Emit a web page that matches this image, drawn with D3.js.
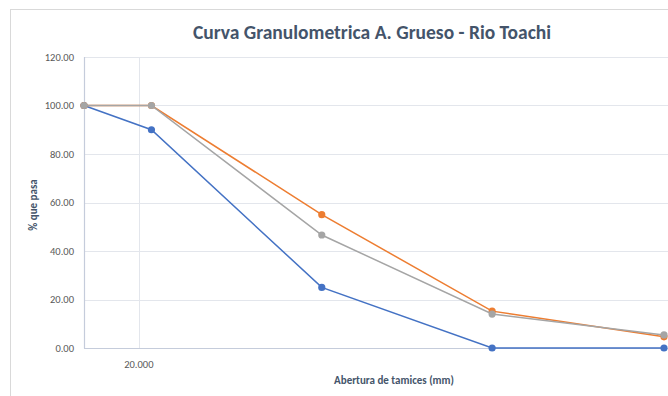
<!DOCTYPE html>
<html><head><meta charset="utf-8">
<script src="https://cdn.jsdelivr.net/npm/d3@7"></script>
<style>body{margin:0;background:#fff}svg{display:block}</style>
</head><body>
<svg id="c" width="668" height="396"></svg>
<script>
const sieves = [25, 19, 9.5, 4.75, 2.36];
const blueVals = [100, 90, 25, 0, 0];
const orangeVals = [100, 100, 55, 15.2, 4.6];
const grayVals = [100, 100, 46.6, 14, 5.4];
const yTicks = [0, 20, 40, 60, 80, 100, 120];
const xTicks = [20];
const seriesColors = ["#4472C4", "#ED7D31", "#A5A5A5"];

const svg = d3.select("#c");
const font = "Carlito, 'Open Sans', 'Noto Sans', sans-serif";
svg.append("rect").attr("x", 10.5).attr("y", 9.5).attr("width", 700).attr("height", 400)
  .attr("fill", "#fff").attr("stroke", "#D9D9D9");

const x = d3.scaleLog().domain([25, 2.36]).range([84, 664]);
const y = d3.scaleLinear().domain([0, 120]).range([348, 57]);

// gridlines
svg.append("g").selectAll("line").data(yTicks.filter(d => d > 0)).join("line")
  .attr("x1", 84).attr("x2", 668).attr("y1", d => Math.round(y(d)) + 0.5).attr("y2", d => Math.round(y(d)) + 0.5)
  .attr("stroke", "#E3E6EC").attr("stroke-width", 1);
svg.append("g").selectAll("line").data(xTicks).join("line")
  .attr("x1", d => Math.round(x(d)) + 0.5).attr("x2", d => Math.round(x(d)) + 0.5).attr("y1", 57).attr("y2", 348)
  .attr("stroke", "#E3E6EC").attr("stroke-width", 1);

// axes lines
svg.append("line").attr("x1", 84.5).attr("x2", 84.5).attr("y1", 57).attr("y2", 348.5).attr("stroke", "#C5CCDB").attr("stroke-width", 1.2);
svg.append("line").attr("x1", 84).attr("x2", 668).attr("y1", 348.5).attr("y2", 348.5).attr("stroke", "#C5CCDB").attr("stroke-width", 1.2);

// y tick labels
svg.append("g").selectAll("text").data(yTicks).join("text")
  .attr("x", 74).attr("y", d => y(d)).attr("dy", "0.35em").attr("text-anchor", "end")
  .attr("font-family", font).attr("font-size", 10.5).attr("fill", "#595959")
  .text(d => d3.format(".2f")(d));
// x tick labels
svg.append("g").selectAll("text").data(xTicks).join("text")
  .attr("x", d => x(d)).attr("y", 364).attr("dy", "0.35em").attr("text-anchor", "middle")
  .attr("font-family", font).attr("font-size", 10.5).attr("fill", "#595959")
  .text(d => d3.format(".3f")(d));

// titles
svg.append("text").attr("x", 372).attr("y", 39).attr("text-anchor", "middle")
  .attr("font-family", font).attr("font-size", 19.5).attr("font-weight", "bold").attr("fill", "#44546A")
  .text("Curva Granulometrica A. Grueso - Rio Toachi");
svg.append("text").attr("transform", "translate(37,205) rotate(-90)").attr("text-anchor", "middle")
  .attr("font-family", font).attr("font-size", 11).attr("font-weight", "bold").attr("fill", "#44546A")
  .text("% que pasa");
svg.append("text").attr("x", 394).attr("y", 384).attr("text-anchor", "middle")
  .attr("font-family", font).attr("font-size", 11).attr("font-weight", "bold").attr("fill", "#44546A")
  .text("Abertura de tamices (mm)");

const series = [blueVals, orangeVals, grayVals];
const line = d3.line().x(d => x(d[0])).y(d => y(d[1]));
series.forEach((vals, i) => {
  const pts = sieves.map((s, j) => [s, vals[j]]);
  svg.append("path").datum(pts).attr("d", line).attr("fill", "none")
    .attr("stroke", seriesColors[i]).attr("stroke-width", 1.5);
  svg.append("g").selectAll("circle").data(pts).join("circle")
    .attr("cx", d => x(d[0])).attr("cy", d => y(d[1])).attr("r", 3.6)
    .attr("fill", seriesColors[i]);
});
</script>
</body></html>
